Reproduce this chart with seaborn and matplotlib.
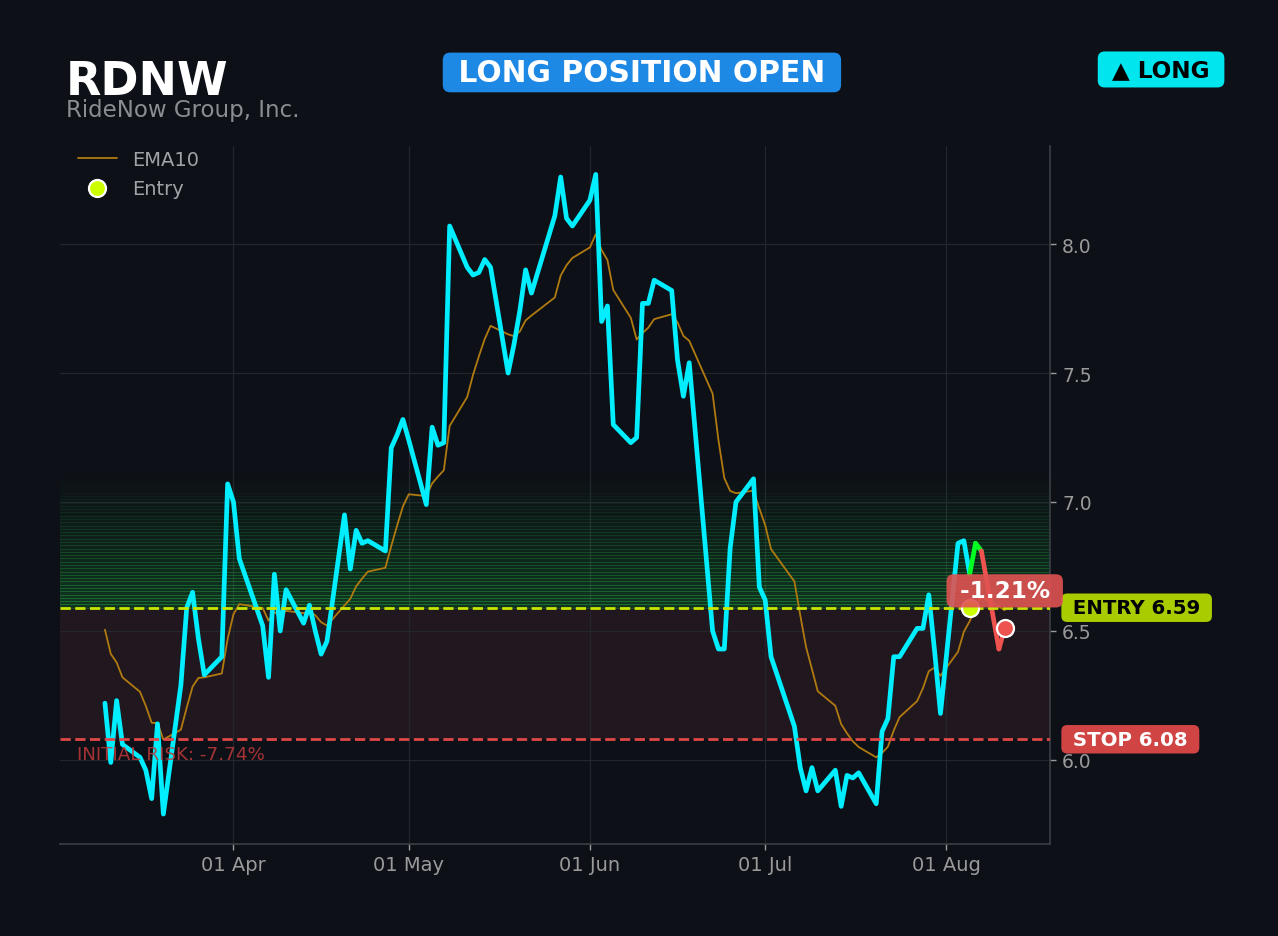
import pandas as pd
import numpy as np
import matplotlib
matplotlib.use("Agg")
import matplotlib.pyplot as plt
import matplotlib.dates as mdates
import matplotlib.transforms as mtransforms
from matplotlib.ticker import MultipleLocator, FormatStrFormatter
import seaborn as sns

# Data
ticker = "RDNW"
company = "RideNow Group, Inc."
status = "LONG POSITION OPEN"
side = "LONG"

holidays = ["2026-04-03", "2026-05-25", "2026-06-19", "2026-07-03"]
dates = pd.bdate_range("2026-03-10", "2026-08-11", freq="C", holidays=holidays)

close = [
    6.22, 5.99, 6.23, 6.06, 6.01, 5.96, 5.85, 6.14, 5.79, 6.29, 6.59, 6.65, 6.47, 6.33, 6.40, 7.07,
    7.00, 6.78, 6.52, 6.32, 6.72, 6.50, 6.66, 6.53, 6.60, 6.50, 6.41, 6.46, 6.95, 6.74, 6.89, 6.84,
    6.85, 6.81, 7.21, 7.26, 7.32,
    7.24, 6.99, 7.29, 7.22, 7.23, 8.07, 7.91, 7.88, 7.89, 7.94, 7.91, 7.50, 7.61, 7.74, 7.90, 7.81,
    8.11, 8.26, 8.10, 8.07,
    8.17, 8.27, 7.70, 7.76, 7.30, 7.23, 7.25, 7.77, 7.77, 7.86, 7.82, 7.55, 7.41, 7.54, 6.50, 6.43,
    6.43, 6.82, 7.00, 7.09, 6.67,
    6.62, 6.40, 6.13, 5.97, 5.88, 5.97, 5.88, 5.96, 5.82, 5.94, 5.93, 5.95, 5.83, 6.11, 6.16, 6.40,
    6.40, 6.51, 6.51, 6.64, 6.42, 6.18,
    6.84, 6.85, 6.72, 6.84, 6.81, 6.43, 6.51,
]

ema10 = [
    6.505, 6.411, 6.378, 6.320, 6.264, 6.209, 6.144, 6.143, 6.079, 6.117, 6.203, 6.284, 6.318, 6.320,
    6.335, 6.469,
    6.565, 6.604, 6.589, 6.540, 6.573, 6.560, 6.578, 6.569, 6.575, 6.561, 6.534, 6.521, 6.599, 6.625,
    6.673, 6.703, 6.730, 6.745, 6.829, 6.908, 6.983,
    7.030, 7.023, 7.072, 7.099, 7.123, 7.295, 7.407, 7.493, 7.565, 7.632, 7.683, 7.650, 7.643, 7.661,
    7.704, 7.723, 7.793, 7.878, 7.918, 7.946,
    7.987, 8.038, 7.977, 7.938, 7.822, 7.714, 7.630, 7.655, 7.676, 7.709, 7.728, 7.696, 7.644, 7.625,
    7.420, 7.240, 7.093, 7.043, 7.034, 7.044, 6.975,
    6.910, 6.817, 6.692, 6.561, 6.437, 6.352, 6.266, 6.210, 6.139, 6.103, 6.072, 6.050, 6.010, 6.027,
    6.051, 6.114, 6.166, 6.228, 6.278, 6.344, 6.358, 6.326,
    6.419, 6.497, 6.538, 6.593, 6.632, 6.595, 6.580,
]

entry_date = pd.Timestamp("2026-08-05")
entry_price = 6.59
stop_price = 6.08
target_price = 7.10

# Colours
BG = "#0d1117"
CYAN = "#00eeff"
EMA_C = "#b07a10"
ENTRY_C = "#c8e600"
ENTRY_BOX = "#a8cc00"
STOP_C = "#e04848"
STOP_BOX = "#d04444"
UP_C = "#00ff22"
DOWN_C = "#ef5350"
TXT = "#9a9a9a"

df = pd.DataFrame({"date": dates, "close": close, "ema10": ema10})

sns.set_style("darkgrid", {
    "axes.facecolor": BG,
    "figure.facecolor": BG,
    "grid.color": "#23272d",
    "axes.edgecolor": "#3a3f47",
    "xtick.color": TXT,
    "ytick.color": TXT,
    "text.color": TXT,
})
plt.rcParams["font.family"] = ["DejaVu Sans"]

fig = plt.figure(figsize=(12.78, 9.37), dpi=100, facecolor=BG)
ax = fig.add_axes([0.0469, 0.0982, 0.7745, 0.7454])
ax.set_facecolor(BG)

# Risk zone and reward gradient
ax.axhspan(stop_price, entry_price, facecolor="#21171e", lw=0, zorder=0.5)
n_bands = 40
edges = np.linspace(entry_price, target_price, n_bands + 1)
for i in range(n_bands):
    a = 0.25 * (1 - i / n_bands) ** 1.2
    ax.axhspan(edges[i], edges[i + 1], facecolor="#16a83a", edgecolor="#2fd050",
               alpha=a, lw=0.6, zorder=0.6)

# Price before/at entry, EMA
pre = df[df["date"] <= entry_date]
sns.lineplot(data=df, x="date", y="ema10", ax=ax, color=EMA_C, lw=1.3,
             label="EMA10", zorder=3)
sns.lineplot(data=pre, x="date", y="close", ax=ax, color=CYAN, lw=3.4,
             legend=False, zorder=4)

# Post-entry segments coloured vs entry price
post = df[df["date"] >= entry_date].reset_index(drop=True)
for i in range(len(post) - 1):
    seg = post.iloc[i:i + 2]
    c = UP_C if seg["close"].iloc[1] >= entry_price else DOWN_C
    sns.lineplot(data=seg, x="date", y="close", ax=ax, color=c, lw=3.4,
                 legend=False, zorder=4.5)

# Entry / stop lines
ax.axhline(entry_price, color=ENTRY_C, ls="--", lw=2, zorder=5)
ax.axhline(stop_price, color=STOP_C, ls="--", lw=2, zorder=5)

# Markers
sns.scatterplot(x=[entry_date], y=[entry_price], ax=ax, s=150, color="#ccff00",
                edgecolor="white", linewidth=1.6, label="Entry", zorder=6)
last = df.iloc[-1]
sns.scatterplot(x=[last["date"]], y=[last["close"]], ax=ax, s=150, color=DOWN_C,
                edgecolor="white", linewidth=1.6, legend=False, zorder=6)

pnl = (last["close"] / entry_price - 1) * 100
risk = (stop_price / entry_price - 1) * 100

ax.annotate(f" {pnl:.2f}% ", xy=(last["date"], last["close"]), xytext=(0, 27),
            textcoords="offset points", ha="center", va="center", fontsize=16.7,
            fontweight="bold", color="white", zorder=8,
            bbox=dict(boxstyle="round,pad=0.22,rounding_size=0.3", fc="#e05252",
                      ec="none", alpha=0.9))

trans = mtransforms.blended_transform_factory(ax.transAxes, ax.transData)
ax.text(1.0165, entry_price, f" ENTRY {entry_price:.2f} ", transform=trans, ha="left",
        va="center", fontsize=14.2, fontweight="bold", color="black", clip_on=False,
        bbox=dict(boxstyle="round,pad=0.24,rounding_size=0.3", fc=ENTRY_BOX, ec="none"))
ax.text(1.0165, stop_price, f" STOP {stop_price:.2f} ", transform=trans, ha="left",
        va="center", fontsize=14.2, fontweight="bold", color="white", clip_on=False,
        bbox=dict(boxstyle="round,pad=0.24,rounding_size=0.3", fc=STOP_BOX, ec="none"))
ax.annotate(f"INITIAL RISK: {risk:.2f}%", xy=(0.017, stop_price), xycoords=trans,
            xytext=(0, -4), textcoords="offset points", ha="left", va="top",
            fontsize=13.2, color="#c0393b", alpha=0.85, zorder=5)

# Axes styling
span = df["date"].iloc[-1] - df["date"].iloc[0]
ax.set_xlim(df["date"].iloc[0] - 0.05 * span, df["date"].iloc[-1] + 0.05 * span)
ax.set_ylim(5.674, 8.382)
ax.xaxis.set_major_locator(mdates.MonthLocator())
ax.xaxis.set_major_formatter(mdates.DateFormatter("%d %b"))
ax.yaxis.set_major_locator(MultipleLocator(0.5))
ax.yaxis.set_major_formatter(FormatStrFormatter("%.1f"))
ax.yaxis.tick_right()
ax.set_xlabel("")
ax.set_ylabel("")
ax.tick_params(axis="x", labelsize=14, colors=TXT, length=4, width=1, pad=4, bottom=True)
ax.tick_params(axis="y", labelsize=13.5, colors=TXT, length=4, width=1, pad=5, right=True)
ax.grid(True, color="#23272d", lw=0.9)
for side_name in ["left", "top"]:
    ax.spines[side_name].set_visible(False)
for side_name in ["right", "bottom"]:
    ax.spines[side_name].set_visible(True)
    ax.spines[side_name].set_color("#3a3f47")
    ax.spines[side_name].set_linewidth(1.2)

leg = ax.legend(loc="upper left", bbox_to_anchor=(0.010, 1.005), borderaxespad=0,
                frameon=False, fontsize=14, labelspacing=0.5, labelcolor="#a0a4a8")

# Header
fig.text(0.0516, 0.8986, ticker, fontsize=33, fontweight="bold", color="white",
         va="baseline")
fig.text(0.0516, 0.8755, company, fontsize=16.5, color="#8a8d91", va="baseline")
fig.text(0.5023, 0.9216, f" {status} ", fontsize=21.4, fontweight="bold", color="white",
         ha="center", va="center",
         bbox=dict(boxstyle="round,pad=0.18,rounding_size=0.25", fc="#1e88e5", ec="none"))
fig.text(0.9085, 0.9248, f" \u25b2 {side} ", fontsize=16.7, fontweight="bold", color="black",
         ha="center", va="center",
         bbox=dict(boxstyle="round,pad=0.28,rounding_size=0.3", fc="#00e5ee", ec="none"))

fig.savefig("out.png", dpi=100, facecolor=BG)
